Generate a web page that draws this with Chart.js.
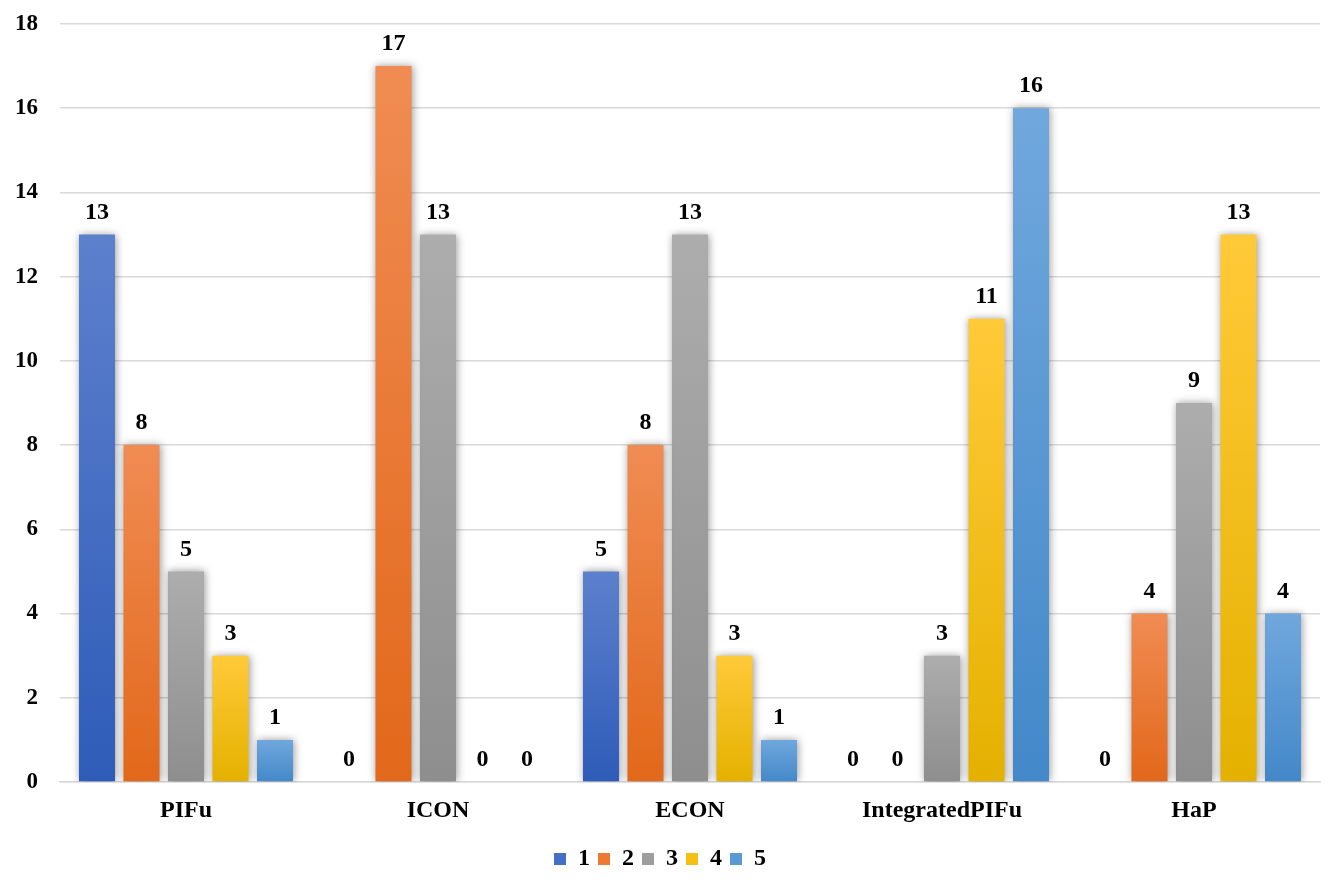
<!DOCTYPE html>
<html>
<head>
<meta charset="utf-8">
<script src="https://cdn.jsdelivr.net/npm/chart.js@4.4.1/dist/chart.umd.min.js"></script>
<style>
    html, body { margin: 0; padding: 0; background: #ffffff; }
    #wrap { width: 1334px; height: 889px; }
</style>
</head>
<body>
<div id="wrap"><canvas id="rankChart"></canvas></div>
<script>
var methods = ["PIFu", "ICON", "ECON", "IntegratedPIFu", "HaP"];
var seriesNames = ["1", "2", "3", "4", "5"];
var rank1 = [13, 0, 5, 0, 0];
var rank2 = [8, 17, 8, 0, 4];
var rank3 = [5, 13, 13, 3, 9];
var rank4 = [3, 0, 3, 11, 13];
var rank5 = [1, 0, 1, 16, 4];
var yTicks = [0, 2, 4, 6, 8, 10, 12, 14, 16, 18];

var palette = [
    { top: "#5d80cd", mid: "#4470c4", bottom: "#2e5cb8" },
    { top: "#f08c53", mid: "#ec7a33", bottom: "#e2681a" },
    { top: "#adadad", mid: "#9e9e9e", bottom: "#8e8e8e" },
    { top: "#ffca38", mid: "#f6bf14", bottom: "#e4b100" },
    { top: "#70a8dd", mid: "#5b99d4", bottom: "#4388c9" }
];

var serifFamily = "'Liberation Serif', 'Times New Roman', serif";
var tickFont = { family: serifFamily, size: 23, weight: "bold" };
var catFont = { family: serifFamily, size: 24, weight: "bold" };

function barGradient(idx) {
    return function (c) {
        var p = palette[idx];
        if (c.type !== "data") return p.mid;
        var chart = c.chart;
        var ys = chart.scales.y;
        if (!chart.chartArea || !ys) return p.mid;
        var top = ys.getPixelForValue(c.raw);
        var bot = ys.getPixelForValue(0);
        if (bot - top < 1) return p.mid;
        var g = chart.ctx.createLinearGradient(0, top, 0, bot);
        g.addColorStop(0, p.top);
        g.addColorStop(1, p.bottom);
        return g;
    };
}

// soft shadow round the bars, then the value labels on top
var barExtras = {
    id: "barExtras",
    beforeDatasetsDraw: function (chart) {
        var ctx = chart.ctx;
        ctx.save();
        ctx.shadowColor = "rgba(0,0,0,0.4)";
        ctx.shadowBlur = 8;
        ctx.shadowOffsetX = 1;
        ctx.shadowOffsetY = 0;
    },
    afterDatasetsDraw: function (chart) {
        var ctx = chart.ctx;
        ctx.restore();
        ctx.save();
        ctx.font = "bold 24px " + serifFamily;
        ctx.fillStyle = "#000000";
        ctx.textAlign = "center";
        ctx.textBaseline = "middle";
        chart.data.datasets.forEach(function (ds, i) {
            chart.getDatasetMeta(i).data.forEach(function (bar, j) {
                ctx.fillText(String(ds.data[j]), bar.x, bar.y - 22);
            });
        });
        ctx.restore();
    }
};

var allSeries = [rank1, rank2, rank3, rank4, rank5];
var datasets = allSeries.map(function (values, i) {
    return {
        label: seriesNames[i],
        data: values,
        backgroundColor: barGradient(i),
        borderWidth: 0,
        categoryPercentage: 0.883,
        barPercentage: 0.81
    };
});

new Chart(document.getElementById("rankChart"), {
    type: "bar",
    data: { labels: methods, datasets: datasets },
    options: {
        responsive: true,
        maintainAspectRatio: false,
        animation: false,
        layout: { padding: { top: 24, right: 14, left: 0, bottom: 8 } },
        plugins: {
            tooltip: { enabled: false },
            legend: {
                position: "bottom",
                labels: {
                    boxWidth: 12,
                    boxHeight: 12,
                    padding: 8,
                    color: "#000000",
                    font: catFont,
                    generateLabels: function (chart) {
                        return chart.data.datasets.map(function (ds, i) {
                            return {
                                text: ds.label,
                                fillStyle: palette[i].mid,
                                strokeStyle: palette[i].mid,
                                lineWidth: 0,
                                datasetIndex: i
                            };
                        });
                    }
                }
            }
        },
        scales: {
            x: {
                grid: { display: false },
                border: { display: true, color: "#d9d9d9", width: 1.5 },
                ticks: { color: "#000000", font: catFont, padding: 6 },
                afterFit: function (scale) { scale.height = 57; }
            },
            y: {
                min: 0,
                max: 18,
                afterBuildTicks: function (scale) {
                    scale.ticks = yTicks.map(function (v) { return { value: v }; });
                },
                grid: { color: "#d9d9d9", lineWidth: 1.5, drawTicks: false },
                border: { display: false },
                ticks: { color: "#000000", font: tickFont, padding: 22 },
                afterFit: function (scale) {
                    scale.width = 60;
                    scale.paddingTop = 0;
                    scale.paddingBottom = 0;
                }
            }
        }
    },
    plugins: [barExtras]
});
</script>
</body>
</html>
